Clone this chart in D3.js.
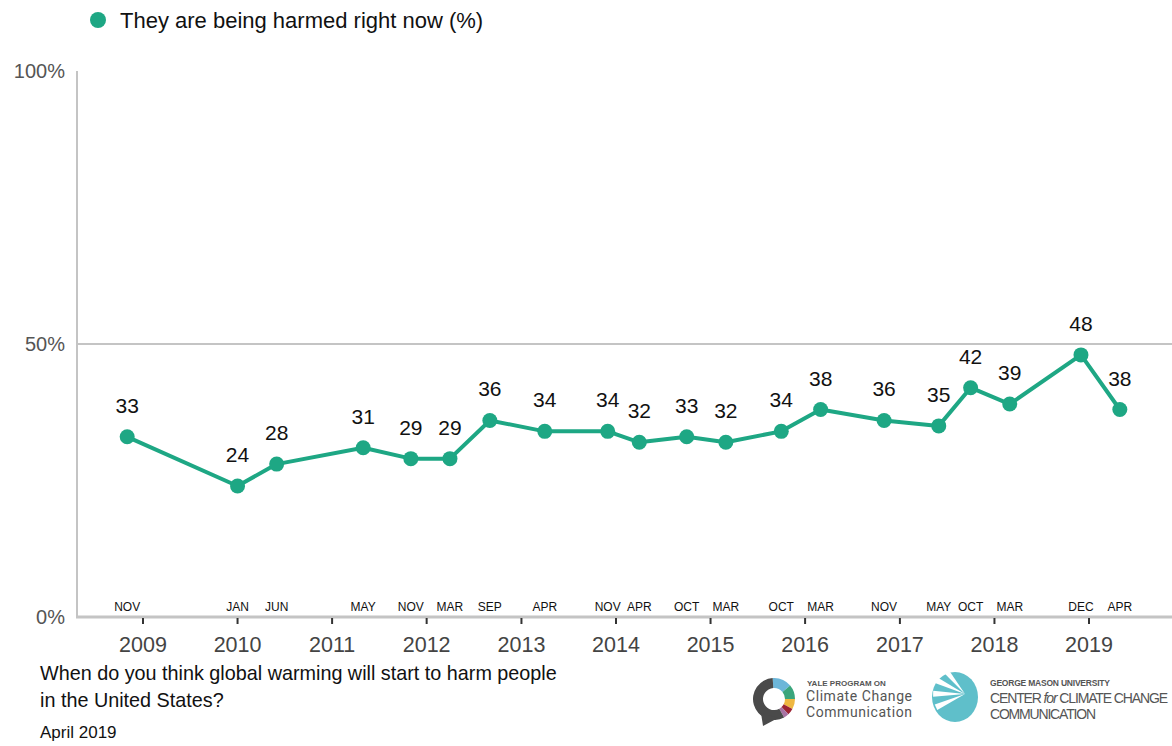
<!DOCTYPE html>
<html>
<head>
<meta charset="utf-8">
<script src="https://cdn.jsdelivr.net/npm/d3@7"></script>
<style>
    body { margin: 0; background: #fff; }
    svg text { font-family: Arial, "Liberation Sans", sans-serif; }
</style>
</head>
<body>
<div id="root"></div>
<script>
"use strict";

// survey waves (plotted at field date), month labels and % saying "being harmed right now"
var surveyDates = ["2008-11-01", "2010-01-01", "2010-06-01", "2011-05-01", "2011-11-01", "2012-03-31",
    "2012-09-01", "2013-04-01", "2013-11-30", "2014-04-01", "2014-10-01", "2015-03-01", "2015-10-01",
    "2016-03-01", "2016-11-01", "2017-05-31", "2017-10-01", "2018-03-01", "2018-12-01", "2019-04-30"];
var monthLabels = ["NOV", "JAN", "JUN", "MAY", "NOV", "MAR", "SEP", "APR", "NOV", "APR", "OCT",
    "MAR", "OCT", "MAR", "NOV", "MAY", "OCT", "MAR", "DEC", "APR"];
var harmedNow = [33, 24, 28, 31, 29, 29, 36, 34, 34, 32, 33, 32, 34, 38, 36, 35, 42, 39, 48, 38];
var yearTicks = [2009, 2010, 2011, 2012, 2013, 2014, 2015, 2016, 2017, 2018, 2019];
var yTicks = [0, 50, 100];
var seriesName = "They are being harmed right now (%)";

var width = 1172,
    height = 746,
    green = "#1ea784",
    axisGray = "#c4c4c4";

var parse = d3.timeParse("%Y-%m-%d");
var data = surveyDates.map(function (d, i) {
    return { date: parse(d), month: monthLabels[i], value: harmedNow[i] };
});

var svg = d3.select("#root").append("svg")
    .attr("width", width)
    .attr("height", height);

var x = d3.scaleTime()
    .domain([new Date(2009, 0, 1), new Date(2019, 0, 1)])
    .range([143, 1089]);

var y = d3.scaleLinear()
    .domain([0, 100])
    .range([617, 71]);

// legend
var legend = svg.append("g").classed("legend", true);
legend.append("circle")
    .attr("cx", 98).attr("cy", 20).attr("r", 8)
    .attr("fill", green);
legend.append("text")
    .attr("x", 120).attr("y", 28)
    .style("font-size", "22px")
    .attr("fill", "#111")
    .text(seriesName);

// y axis: line, 50% gridline and labels
var grid = svg.append("g").classed("grid", true);
grid.append("line")
    .attr("x1", 77).attr("x2", 77)
    .attr("y1", y(100)).attr("y2", y(0))
    .attr("stroke", axisGray).attr("stroke-width", 2);
grid.append("line")
    .attr("x1", 77).attr("x2", width)
    .attr("y1", y(50)).attr("y2", y(50))
    .attr("stroke", axisGray).attr("stroke-width", 2);
grid.append("line")
    .attr("x1", 76).attr("x2", width)
    .attr("y1", y(0)).attr("y2", y(0))
    .attr("stroke", axisGray).attr("stroke-width", 3);

grid.selectAll(".ylab")
    .data(yTicks)
    .enter()
    .append("text")
    .classed("ylab", true)
    .attr("x", 65)
    .attr("y", function (d) { return y(d) + 7; })
    .attr("text-anchor", "end")
    .attr("fill", "#555")
    .style("font-size", "20px")
    .text(function (d) { return d + "%"; });

// x axis: year ticks
var xAxis = svg.append("g").classed("x-axis", true);
xAxis.selectAll(".tick")
    .data(yearTicks)
    .enter()
    .append("line")
    .classed("tick", true)
    .attr("x1", function (d) { return x(new Date(d, 0, 1)); })
    .attr("x2", function (d) { return x(new Date(d, 0, 1)); })
    .attr("y1", y(0) + 1).attr("y2", y(0) + 7)
    .attr("stroke", "#333").attr("stroke-width", 2);
xAxis.selectAll(".year")
    .data(yearTicks)
    .enter()
    .append("text")
    .classed("year", true)
    .attr("x", function (d) { return x(new Date(d, 0, 1)); })
    .attr("y", 652)
    .attr("text-anchor", "middle")
    .attr("fill", "#444")
    .style("font-size", "21.5px")
    .text(function (d) { return d; });

// month labels sitting on the baseline
svg.selectAll(".month")
    .data(data)
    .enter()
    .append("text")
    .classed("month", true)
    .attr("x", function (d) { return x(d.date); })
    .attr("y", 611)
    .attr("text-anchor", "middle")
    .attr("fill", "#111")
    .style("font-size", "12px")
    .text(function (d) { return d.month; });

// the series
var line = d3.line()
    .x(function (d) { return x(d.date); })
    .y(function (d) { return y(d.value); });

svg.append("path")
    .datum(data)
    .attr("d", line)
    .attr("fill", "none")
    .attr("stroke", green)
    .attr("stroke-width", 4)
    .attr("stroke-linejoin", "round");

svg.selectAll(".dot")
    .data(data)
    .enter()
    .append("circle")
    .classed("dot", true)
    .attr("cx", function (d) { return x(d.date); })
    .attr("cy", function (d) { return y(d.value); })
    .attr("r", 7.5)
    .attr("fill", green);

svg.selectAll(".value")
    .data(data)
    .enter()
    .append("text")
    .classed("value", true)
    .attr("x", function (d) { return x(d.date); })
    .attr("y", function (d) { return y(d.value) - 24; })
    .attr("text-anchor", "middle")
    .attr("fill", "#111")
    .style("font-size", "21px")
    .text(function (d) { return d.value; });

// question + date
var notes = svg.append("g").classed("notes", true);
notes.append("text").attr("x", 40).attr("y", 680)
    .style("font-size", "19.8px").attr("fill", "#111")
    .text("When do you think global warming will start to harm people");
notes.append("text").attr("x", 40).attr("y", 707)
    .style("font-size", "19.8px").attr("fill", "#111")
    .text("in the United States?");
notes.append("text").attr("x", 40).attr("y", 738)
    .style("font-size", "17px").attr("fill", "#111")
    .text("April 2019");

// logos (rough drawings)
var yale = svg.append("g").attr("transform", "translate(774,699)");
var arc = d3.arc().innerRadius(11).outerRadius(21);
var segs = [
    [-Math.PI * 0.02, Math.PI * 0.28, "#6cb6d9"],
    [Math.PI * 0.28, Math.PI * 0.5, "#3aa57c"],
    [Math.PI * 0.5, Math.PI * 0.66, "#efb741"],
    [Math.PI * 0.66, Math.PI * 0.76, "#9d2434"],
    [Math.PI * 0.76, Math.PI * 0.84, "#a873a4"],
    [Math.PI * 0.84, Math.PI * 1.98, "#4a4a4a"]
];
yale.selectAll("path.seg")
    .data(segs)
    .enter()
    .append("path")
    .classed("seg", true)
    .attr("d", function (d) { return arc({ startAngle: d[0], endAngle: d[1] }); })
    .attr("fill", function (d) { return d[2]; });
yale.append("path")
    .attr("d", "M-13,14 L-11,27 L4,19 Z")
    .attr("fill", "#4a4a4a");
var yaleText = svg.append("g").attr("fill", "#555");
yaleText.append("text").attr("x", 807).attr("y", 686)
    .style("font-size", "8px").style("font-weight", "bold").text("YALE PROGRAM ON");
yaleText.append("text").attr("x", 806).attr("y", 701)
    .style("font-family", "Roboto, Arial, sans-serif")
    .style("font-size", "14px").attr("textLength", 106).text("Climate Change");
yaleText.append("text").attr("x", 806).attr("y", 717)
    .style("font-family", "Roboto, Arial, sans-serif")
    .style("font-size", "14px").attr("textLength", 106).text("Communication");

var gmu = svg.append("g").attr("transform", "translate(955,697)");
gmu.append("ellipse").attr("rx", 23).attr("ry", 25).attr("fill", "#5fbfca");
[150, 175, 200, 225].forEach(function (a) {
    var r = Math.PI / 180,
        cx = 10, cy = -3, len = 32;
    gmu.append("path")
        .attr("d", "M" + cx + "," + cy +
            " L" + (cx + len * Math.cos(a * r)) + "," + (cy + len * Math.sin(a * r)) +
            " L" + (cx + len * Math.cos((a + 11) * r)) + "," + (cy + len * Math.sin((a + 11) * r)) + " Z")
        .attr("fill", "#fff");
});
var gmuText = svg.append("g").attr("fill", "#555")
    .style("font-family", "'DejaVu Sans', sans-serif")
    .style("font-stretch", "condensed");
gmuText.append("text").attr("x", 990).attr("y", 686)
    .style("font-size", "8.5px").style("font-weight", "bold")
    .attr("textLength", 120).text("GEORGE MASON UNIVERSITY");
gmuText.append("text").attr("x", 990).attr("y", 703)
    .style("font-size", "14px").attr("textLength", 178)
    .html("CENTER <tspan font-style='italic'>for</tspan> CLIMATE CHANGE");
gmuText.append("text").attr("x", 990).attr("y", 719)
    .style("font-size", "14px").attr("textLength", 106).text("COMMUNICATION");
</script>
</body>
</html>
